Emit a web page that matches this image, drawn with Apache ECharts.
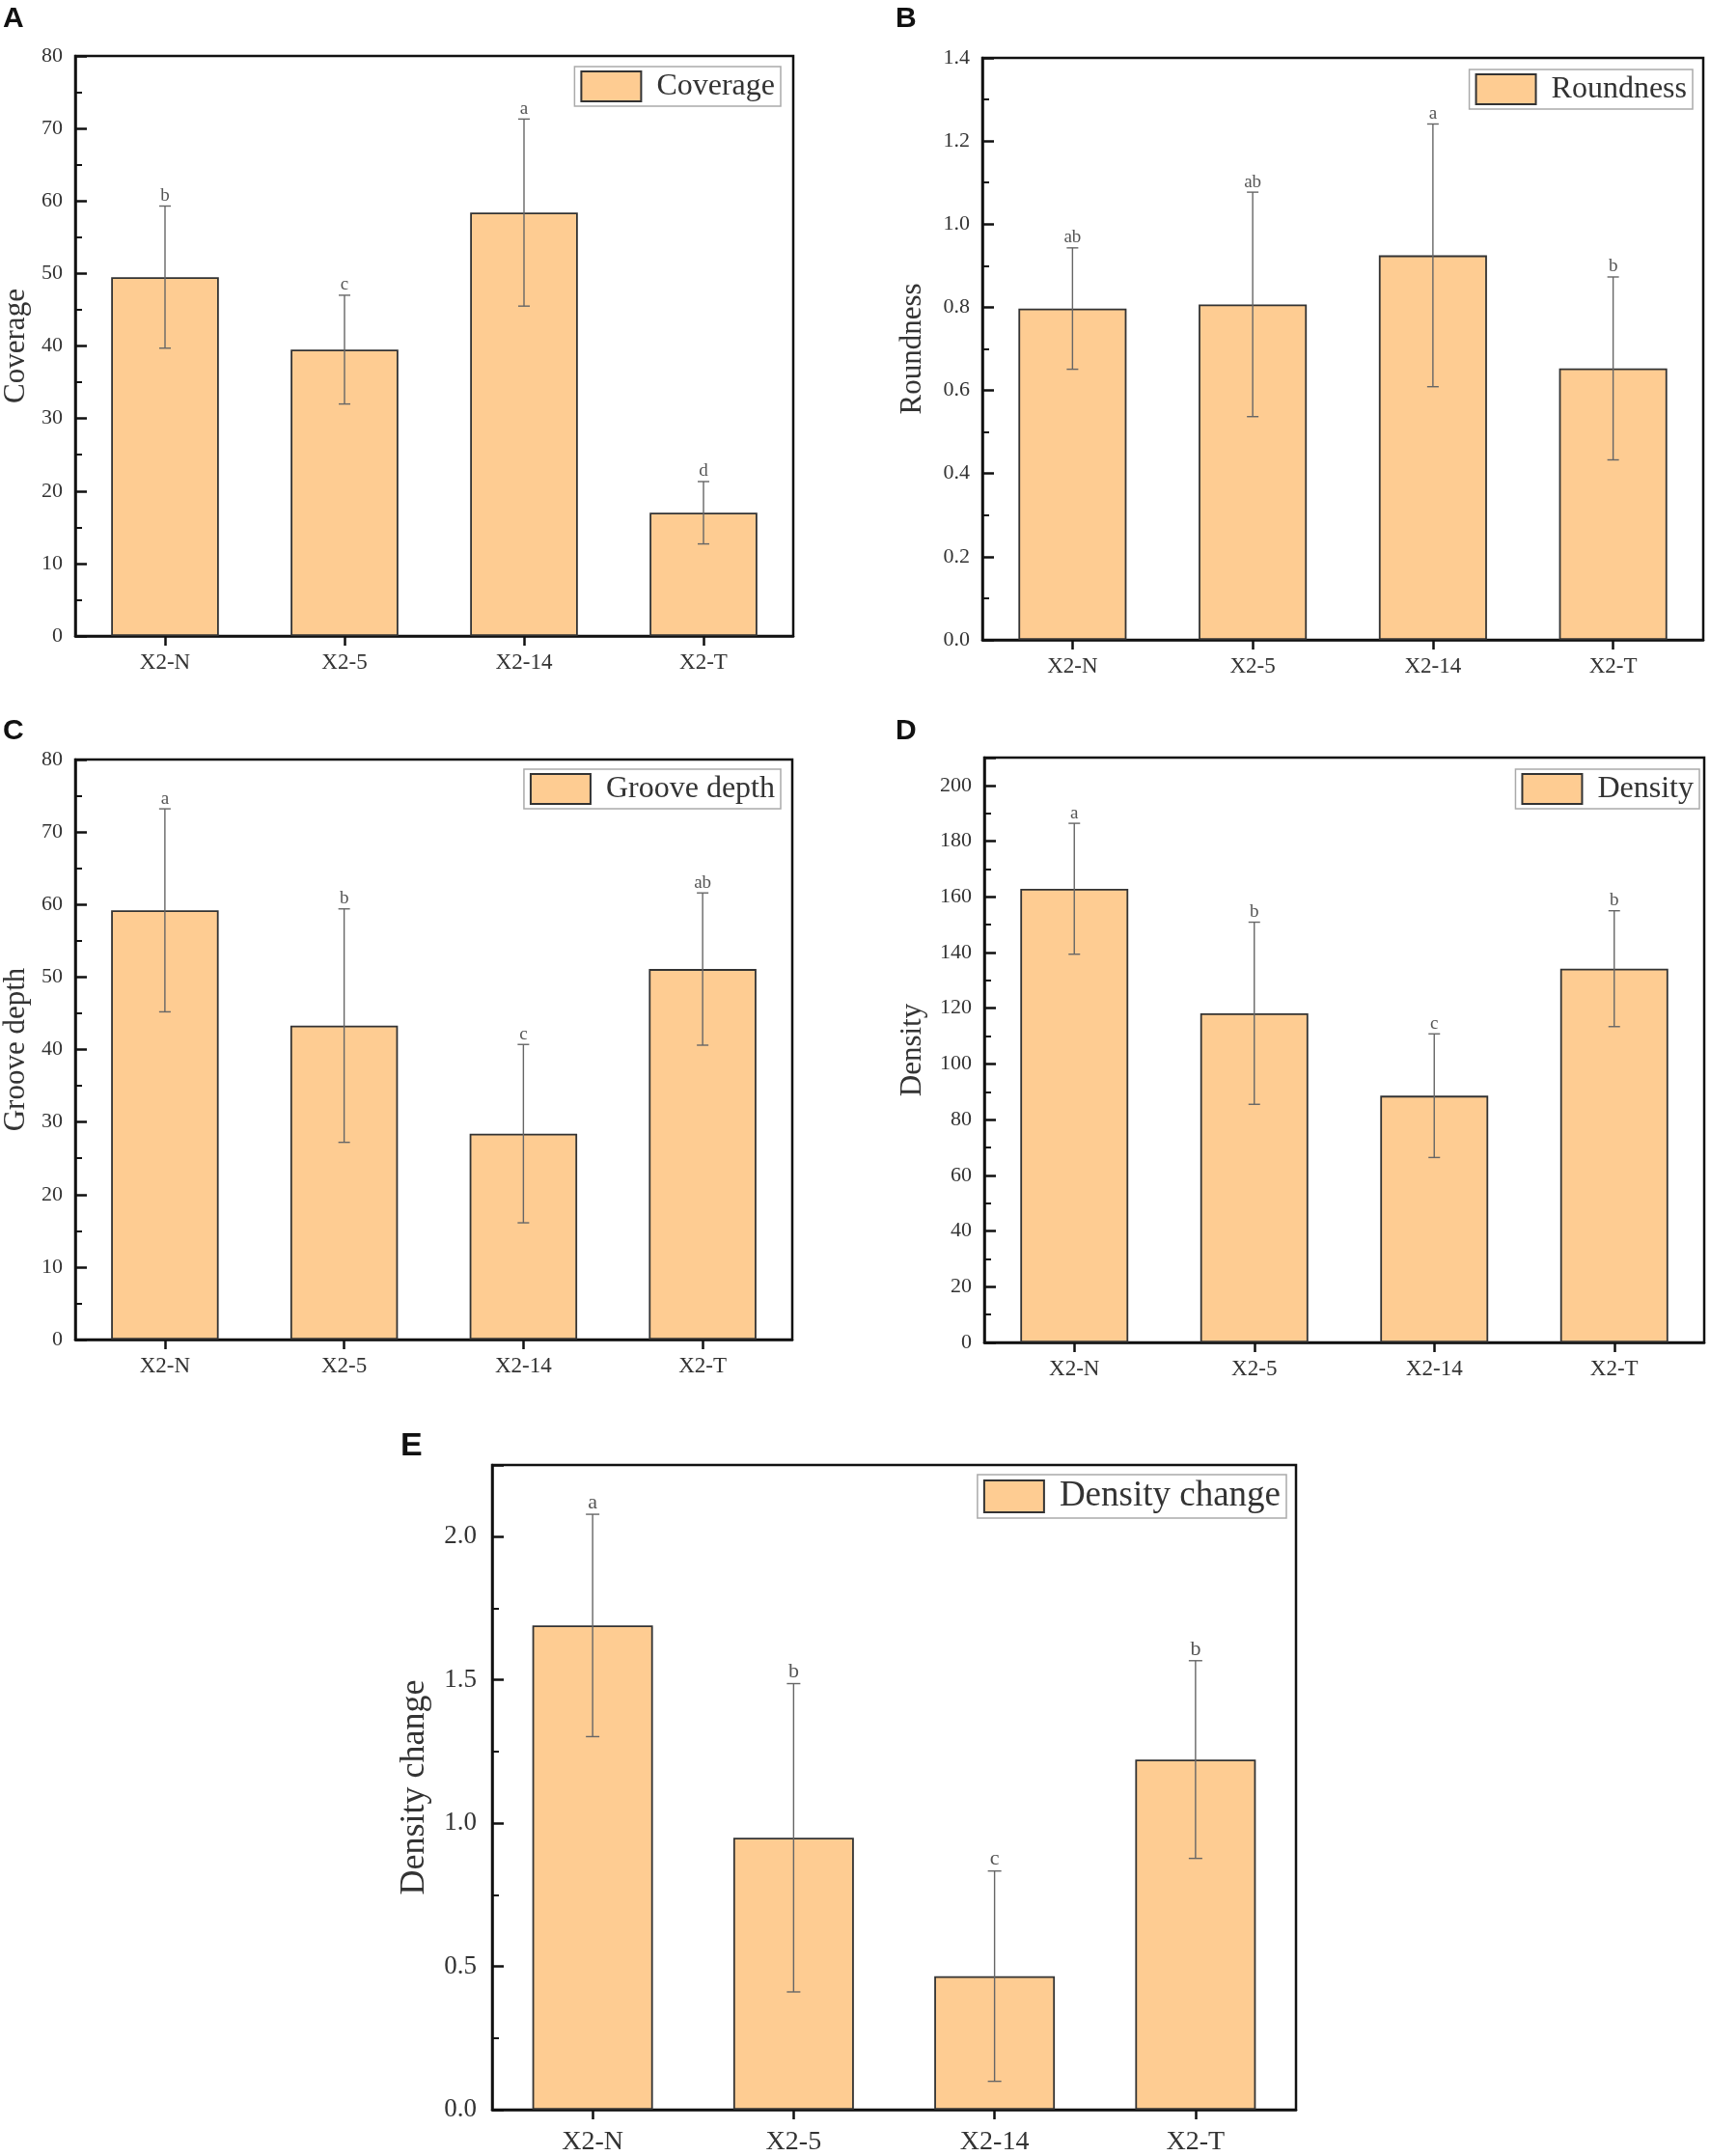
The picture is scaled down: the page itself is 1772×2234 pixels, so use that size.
<!DOCTYPE html>
<html>
<head>
<meta charset="utf-8">
<script src="https://cdn.jsdelivr.net/npm/echarts@6/dist/echarts.min.js"></script>
<style>
html,body{margin:0;padding:0;background:#fff;}
#c{width:1772px;height:2234px;}
</style>
</head>
<body>
<div id="c"></div>
<script>
const categories = ['X2-N', 'X2-5', 'X2-14', 'X2-T'];

const coverageMean = [49.5, 39.5, 58.4, 17.0];
const coverageSd = [9.8, 7.5, 12.9, 4.3];
const coverageLetters = ['b', 'c', 'a', 'd'];

const roundnessMean = [0.797, 0.807, 0.925, 0.653];
const roundnessSd = [0.146, 0.27, 0.316, 0.22];
const roundnessLetters = ['ab', 'ab', 'a', 'b'];

const grooveMean = [59.2, 43.3, 28.4, 51.1];
const grooveSd = [14.0, 16.1, 12.3, 10.5];
const grooveLetters = ['a', 'b', 'c', 'ab'];

const densityMean = [162.9, 118.2, 88.6, 134.2];
const densitySd = [23.5, 32.7, 22.2, 20.8];
const densityLetters = ['a', 'b', 'c', 'b'];

const changeMean = [1.69, 0.949, 0.466, 1.222];
const changeSd = [0.388, 0.538, 0.367, 0.345];
const changeLetters = ['a', 'b', 'c', 'b'];

const FONT = 'Liberation Serif';
const BAR_COLOR = '#FECC92';

const panels = [
  {name:'Coverage', mean:coverageMean, sd:coverageSd, letters:coverageLetters,
   grid:{left:75, top:58, width:747, height:601}, max:80, interval:10, dec:0,
   legend:{right:963, top:69}, nameGap:46, big:false, tag:'A', tagPos:[3,20]},
  {name:'Roundness', mean:roundnessMean, sd:roundnessSd, letters:roundnessLetters,
   grid:{left:1018, top:60, width:747, height:603}, max:1.4, interval:0.2, dec:1,
   legend:{right:18, top:72}, nameGap:57, big:false, tag:'B', tagPos:[928,20]},
  {name:'Groove depth', mean:grooveMean, sd:grooveSd, letters:grooveLetters,
   grid:{left:76, top:787, width:745, height:601}, max:80, interval:10, dec:0,
   legend:{right:963, top:797}, nameGap:46, big:false, tag:'C', tagPos:[3,758]},
  {name:'Density', mean:densityMean, sd:densitySd, letters:densityLetters,
   grid:{left:1020, top:785, width:746, height:606}, max:210, interval:20, dec:0,
   legend:{right:11, top:797}, nameGap:59, big:false, tag:'D', tagPos:[928,758]},
  {name:'Density change', mean:changeMean, sd:changeSd, letters:changeLetters,
   grid:{left:510, top:1518, width:833, height:669}, max:2.25, interval:0.5, dec:1,
   legend:{right:439, top:1528}, nameGap:62, big:true, tag:'E', tagPos:[415,1499]}
];

const option = {
  animation:false,
  backgroundColor:'#fff',
  grid:[], xAxis:[], yAxis:[], series:[], legend:[], graphic:[]
};

panels.forEach((p, k) => {
  const fsTick = p.big ? 27 : 22;
  const fsName = p.big ? 36 : 31;
  const fsLegend = p.big ? 37 : 32;
  const fsLetter = p.big ? 22 : 19;
  option.grid.push(Object.assign({show:true, borderColor:'#111', borderWidth:2.5, backgroundColor:'transparent'}, p.grid));
  option.xAxis.push({
    type:'category', gridIndex:k, data:categories,
    axisLine:{show:true, lineStyle:{color:'#111', width:2.5}},
    axisTick:{show:true, alignWithLabel:true, inside:false, length:10, lineStyle:{color:'#111', width:2.5}},
    axisLabel:{fontFamily:FONT, fontSize:p.big?28:23, color:'#333', margin:p.big?20:16},
    splitLine:{show:false}
  });
  const dec = p.dec, interval = p.interval;
  option.yAxis.push({
    type:'value', gridIndex:k, min:0, max:p.max, interval:interval,
    name:p.name, nameLocation:'middle', nameGap:p.nameGap, nameRotate:90,
    nameTextStyle:{fontFamily:FONT, fontSize:fsName, color:'#333'},
    axisLine:{show:true, lineStyle:{color:'#111', width:2.5}},
    axisTick:{show:true, inside:true, length:12, lineStyle:{color:'#111', width:2.5}},
    minorTick:{show:true, splitNumber:2, length:7, lineStyle:{color:'#111', width:2}},
    axisLabel:{fontFamily:FONT, fontSize:fsTick, color:'#333', margin:p.big?16:13,
      formatter:function(v){
        const r = v / interval;
        if (Math.abs(r - Math.round(r)) > 1e-6) return '';
        return dec ? v.toFixed(dec) : String(Math.round(v));
      }},
    splitLine:{show:false}
  });
  option.series.push({
    type:'bar', name:p.name, xAxisIndex:k, yAxisIndex:k,
    data:p.mean, barWidth:'60%',
    itemStyle:{color:BAR_COLOR, borderColor:'#333', borderWidth:1.8}
  });
  const letters = p.letters;
  option.series.push({
    type:'custom', name:p.name + ' error', xAxisIndex:k, yAxisIndex:k,
    data:p.mean.map((m, i) => [i, m, p.sd[i]]),
    encode:{x:0, y:1},
    z:5,
    renderItem:function(params, api){
      const i = api.value(0), m = api.value(1), s = api.value(2);
      const top = api.coord([i, m + s]);
      const bot = api.coord([i, m - s]);
      const hw = p.big ? 7 : 6;
      const st = {stroke:'#666', lineWidth:1.4};
      return {type:'group', children:[
        {type:'line', shape:{x1:top[0], y1:top[1], x2:bot[0], y2:bot[1]}, style:st},
        {type:'line', shape:{x1:top[0]-hw, y1:top[1], x2:top[0]+hw, y2:top[1]}, style:st},
        {type:'line', shape:{x1:bot[0]-hw, y1:bot[1], x2:bot[0]+hw, y2:bot[1]}, style:st},
        {type:'text', x:top[0], y:top[1]-1, style:{text:letters[params.dataIndex], fontFamily:FONT, fontSize:fsLetter, fill:'#555', align:'center', verticalAlign:'bottom'}}
      ]};
    }
  });
  option.legend.push({
    data:[p.name], right:p.legend.right, top:p.legend.top,
    orient:'horizontal', icon:'rect',
    itemWidth:62, itemHeight:p.big?33:31,
    padding:[4,6,4,6], borderColor:'#aaa', borderWidth:1.5, backgroundColor:'#fff',
    selectedMode:false,
    textStyle:{fontFamily:FONT, fontSize:fsLegend, color:'#333', padding:[0,0,0,11]}
  });
  option.graphic.push({
    type:'text', left:p.tagPos[0], top:p.tagPos[1] - (p.big?17:15),
    style:{text:p.tag, fontFamily:'Liberation Sans', fontWeight:'bold', fontSize:p.big?34:30, fill:'#111'}
  });
});

const chart = echarts.init(document.getElementById('c'), null, {renderer:'canvas'});
chart.setOption(option);
</script>
</body>
</html>
